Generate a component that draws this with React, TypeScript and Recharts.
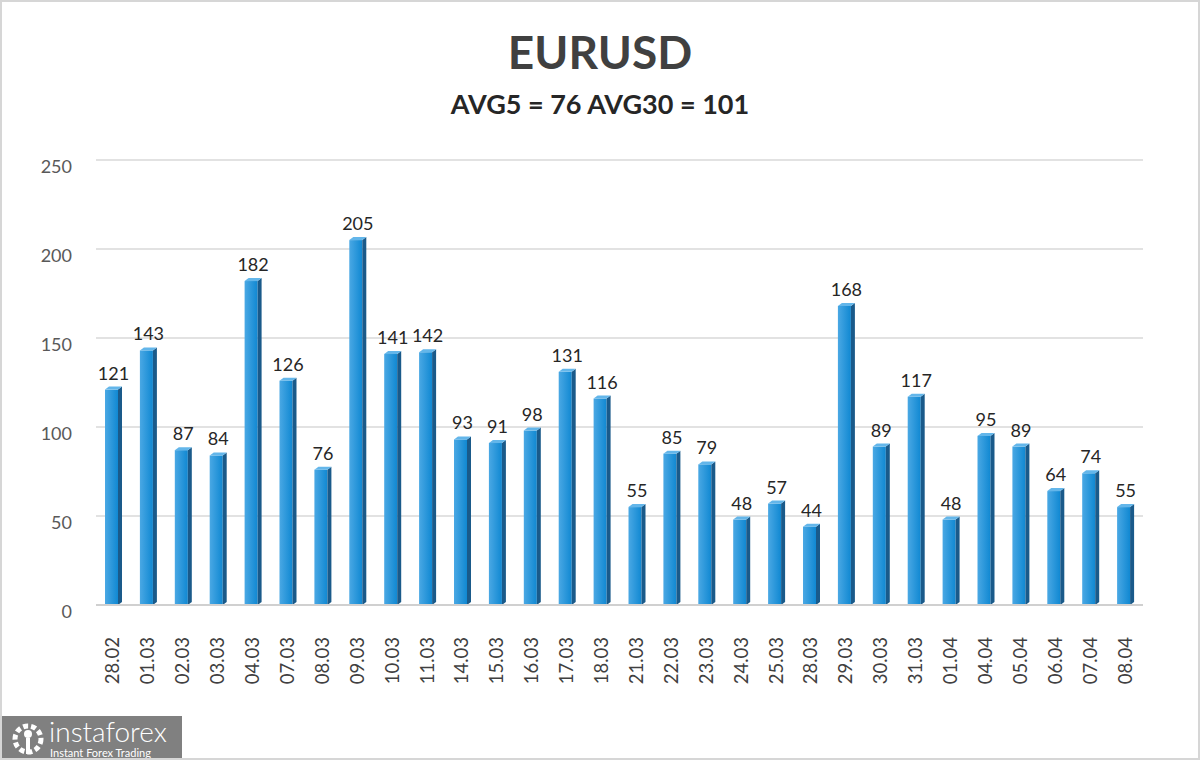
import { BarChart, Bar, XAxis, YAxis, CartesianGrid, LabelList } from 'recharts'

const days = [
  '28.02', '01.03', '02.03', '03.03', '04.03', '07.03', '08.03', '09.03', '10.03', '11.03',
  '14.03', '15.03', '16.03', '17.03', '18.03', '21.03', '22.03', '23.03', '24.03', '25.03',
  '28.03', '29.03', '30.03', '31.03', '01.04', '04.04', '05.04', '06.04', '07.04', '08.04',
]
const ranges = [
  121, 143, 87, 84, 182, 126, 76, 205, 141, 142,
  93, 91, 98, 131, 116, 55, 85, 79, 48, 57,
  44, 168, 89, 117, 48, 95, 89, 64, 74, 55,
]
const yTicks = [0, 50, 100, 150, 200, 250]
const title = 'EURUSD'
const subtitle = 'AVG5 = 76 AVG30 = 101'

const data = days.map((day, i) => ({ day, value: ranges[i] }))

const font = 'Lato, "Open Sans", sans-serif'

// 3d-ish bar: front face + darker right side + light top
function Bar3D(props: any) {
  const { x, y, width, height } = props
  if (!height || height <= 0) return null
  const side = 4
  const fw = width - side
  return (
    <g>
      <rect x={x} y={y} width={fw} height={height} fill="url(#barFront)" />
      <polygon
        points={`${x + fw},${y} ${x + width},${y - 3} ${x + width},${y + height - 3} ${x + fw},${y + height}`}
        fill="#1a5a8a"
      />
      <polygon
        points={`${x},${y} ${x + side},${y - 3} ${x + width},${y - 3} ${x + fw},${y}`}
        fill="#63b6ea"
      />
    </g>
  )
}

function DayTick(props: any) {
  const { x, y, payload } = props
  const ty = y + 24
  return (
    <text
      x={x}
      y={ty}
      dy={6}
      transform={`rotate(-90, ${x}, ${ty})`}
      textAnchor="end"
      fontSize={18.5}
      fontFamily={font}
      fill="#404040"
    >
      {payload.value}
    </text>
  )
}

function ValueTick(props: any) {
  const { x, y, payload } = props
  return (
    <text x={x} y={y + 7} dy={6} textAnchor="end" fontSize={18} fontFamily={font} fill="#595959">
      {payload.value}
    </text>
  )
}

export default function App() {
  return (
    <div
      style={{
        position: 'absolute',
        left: 0,
        top: 0,
        width: 1200,
        height: 760,
        background: '#fff',
        boxSizing: 'border-box',
        border: '2px solid #d6d6d6',
        overflow: 'hidden',
        fontFamily: font,
      }}
    >
      <svg width={0} height={0} style={{ position: 'absolute' }}>
        <defs>
          <linearGradient id="barFront" x1="0" y1="0" x2="1" y2="0">
            <stop offset="0%" stopColor="#4aa8e4" />
            <stop offset="100%" stopColor="#1088d2" />
          </linearGradient>
        </defs>
      </svg>
      <div
        style={{
          position: 'absolute', left: 0, width: 1196, top: 22, textAlign: 'center',
          fontSize: 46, fontWeight: 700, color: '#404040', lineHeight: '56px',
        }}
      >
        {title}
      </div>
      <div
        style={{
          position: 'absolute', left: 0, width: 1196, top: 85, textAlign: 'center',
          fontSize: 27, fontWeight: 700, color: '#262626', lineHeight: '34px',
        }}
      >
        {subtitle}
      </div>
      <div style={{ position: 'absolute', left: -2, top: -2 }}>
        <BarChart
          width={1200}
          height={760}
          data={data}
          margin={{ top: 160, right: 57, left: 0, bottom: 0 }}
        >
          <CartesianGrid vertical={false} stroke="#d9d9d9" strokeWidth={1.5} />
          <XAxis
            dataKey="day"
            height={155}
            interval={0}
            tickLine={false}
            axisLine={{ stroke: '#d0d0d0', strokeWidth: 2 }}
            tick={<DayTick />}
          />
          <YAxis
            width={96}
            domain={[0, 250]}
            ticks={yTicks}
            tickLine={false}
            axisLine={false}
            tickMargin={18}
            tick={<ValueTick />}
          />
          <Bar dataKey="value" barSize={17} shape={<Bar3D />} isAnimationActive={false}>
            <LabelList
              dataKey="value"
              position="top"
              offset={10}
              fontSize={18}
              fill="#262626"
              fontFamily={font}
            />
          </Bar>
        </BarChart>
      </div>
      <div
        style={{
          position: 'absolute', left: 0, top: 714, width: 180, height: 46,
          background: '#808080', color: '#fff',
        }}
      >
        <svg width={40} height={40} style={{ position: 'absolute', left: 6, top: 3 }}>
          <circle cx={20} cy={20} r={13} fill="none" stroke="#fff" strokeWidth={5} strokeDasharray="5 3" />
          <circle cx={20} cy={15} r={4} fill="#fff" />
          <rect x={18} y={19} width={4} height={16} fill="#fff" />
        </svg>
        <div style={{ position: 'absolute', left: 47, top: 0, fontSize: 28, fontWeight: 300, lineHeight: '30px' }}>
          instaforex
        </div>
        <div style={{ position: 'absolute', left: 48, top: 31, fontSize: 11, lineHeight: '12px' }}>
          Instant Forex Trading
        </div>
      </div>
    </div>
  )
}
